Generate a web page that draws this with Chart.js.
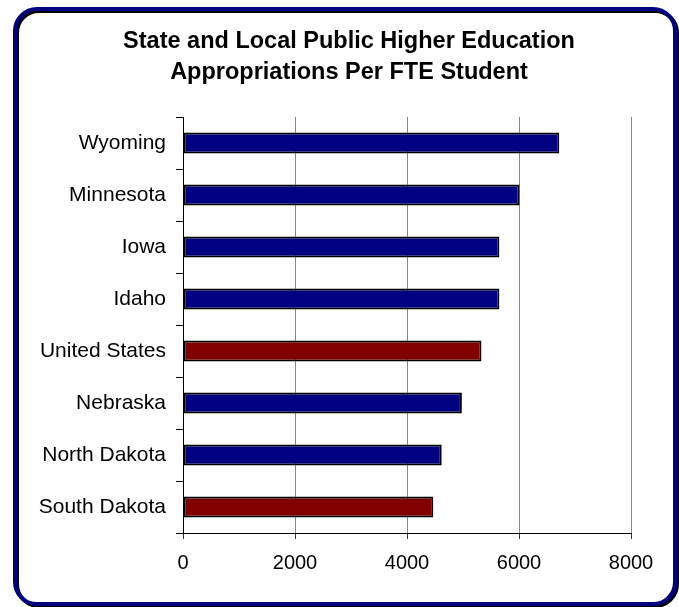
<!DOCTYPE html>
<html lang="en">
<head>
    <meta charset="UTF-8">
    <title>State and Local Public Higher Education Appropriations Per FTE Student</title>
    <script src="https://cdn.jsdelivr.net/npm/chart.js"></script>
    <style>
        body {
            margin: 0;
            background: #ffffff;
        }
        canvas {
            display: block;
        }
    </style>
</head>
<body>
    <canvas id="fteChart" width="679" height="607"></canvas>

    <script>
        // Chart data
        const states = ["Wyoming", "Minnesota", "Iowa", "Idaho", "United States", "Nebraska", "North Dakota", "South Dakota"];
        const appropriations = [6720, 6010, 5650, 5650, 5330, 4980, 4620, 4470];
        const barColors = ["#000080", "#000080", "#000080", "#000080", "#800000", "#000080", "#000080", "#800000"];
        const xTicks = [0, 2000, 4000, 6000, 8000];
        const titleLines = ["State and Local Public Higher Education", "Appropriations Per FTE Student"];

        const fontFamily = "'Liberation Sans', Arial, sans-serif";

        // Rounded frame behind the chart, title on top
        const framePlugin = {
            id: "frame",
            beforeDraw(chart) {
                const ctx = chart.ctx;
                ctx.save();
                ctx.fillStyle = "#ffffff";
                ctx.fillRect(0, 0, chart.width, chart.height);
                ctx.beginPath();
                ctx.roundRect(15, 9, 660, 595, 22);
                ctx.shadowColor = "#000000";
                ctx.shadowOffsetX = 2;
                ctx.shadowOffsetY = 2;
                ctx.lineWidth = 4;
                ctx.strokeStyle = "#000080";
                ctx.stroke();
                ctx.restore();
            },
            afterDraw(chart) {
                const ctx = chart.ctx;
                ctx.save();
                ctx.fillStyle = "#000000";
                ctx.font = "bold 23.5px " + fontFamily;
                ctx.textAlign = "center";
                ctx.textBaseline = "middle";
                titleLines.forEach((line, i) => {
                    ctx.fillText(line, 349, 42 + i * 31);
                });
                ctx.restore();
            }
        };

        const ctx = document.getElementById("fteChart").getContext("2d");
        new Chart(ctx, {
            type: "bar",
            data: {
                labels: states,
                datasets: [{
                    data: appropriations,
                    backgroundColor: barColors,
                    borderColor: "#000000",
                    borderWidth: 2,
                    borderSkipped: false,
                    categoryPercentage: 1,
                    barPercentage: 0.4,
                }],
            },
            options: {
                indexAxis: "y",
                responsive: false,
                animation: false,
                layout: {
                    padding: { left: 0, right: 48, top: 117, bottom: 20 },
                },
                plugins: {
                    legend: { display: false },
                    tooltip: { enabled: false },
                    title: { display: false },
                },
                scales: {
                    x: {
                        min: 0,
                        max: 8000,
                        afterBuildTicks(scale) {
                            scale.ticks = xTicks.map(v => ({ value: v }));
                        },
                        grid: {
                            color: "#888888",
                            tickColor: "#333333",
                            tickLength: 6,
                        },
                        border: { color: "#000000", width: 1 },
                        ticks: {
                            color: "#000000",
                            padding: 12,
                            font: { family: fontFamily, size: 20 },
                            callback: value => String(value),
                        },
                    },
                    y: {
                        afterFit(scale) {
                            scale.width = 183;
                        },
                        grid: {
                            offset: true,
                            drawOnChartArea: false,
                            tickColor: "#000000",
                            tickLength: 7,
                        },
                        border: { color: "#000000", width: 1 },
                        ticks: {
                            color: "#000000",
                            padding: 10,
                            font: { family: fontFamily, size: 21 },
                        },
                    },
                },
            },
            plugins: [framePlugin],
        });
    </script>
</body>
</html>
